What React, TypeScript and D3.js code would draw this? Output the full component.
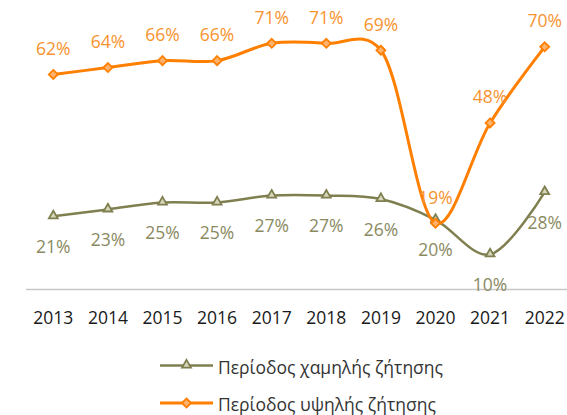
import React from "react";
import * as d3 from "d3";

const years = ["2013", "2014", "2015", "2016", "2017", "2018", "2019", "2020", "2021", "2022"];
const lowDemand = [21, 23, 25, 25, 27, 27, 26, 20, 10, 28];
const highDemand = [62, 64, 66, 66, 71, 71, 69, 19, 48, 70];
const seriesNames = ["Περίοδος χαμηλής ζήτησης", "Περίοδος υψηλής ζήτησης"];

const W = 567;
const H = 415;
const FONT = "'Open Sans', 'Noto Sans', sans-serif";
const FS = 17.5;

const GREEN = "#7f7f4f";
const GREEN_LABEL = "#8a8a62";
const GREEN_FILL = "#d6d6bb";
const ORANGE = "#ff7f00";
const ORANGE_LABEL = "#f7932f";
const ORANGE_FILL = "#ffb36e";

export default function App() {
  const x = d3.scaleBand<string>().domain(years).range([26, 572]).padding(0);
  const cx = (yr: string) => (x(yr) as number) + x.bandwidth() / 2;
  const y = d3.scaleLinear().domain([0, 80]).range([289, 12.2]);

  const line = d3
    .line<number>()
    .x((_, i) => cx(years[i]))
    .y((d) => y(d))
    .curve(d3.curveCatmullRom.alpha(0.2));

  const tri = d3.symbol().type(d3.symbolTriangle).size(34)();
  const dia = (s: number) => `M0,${-s}L${s},0L0,${s}L${-s},0Z`;

  return (
    <svg
      width={W}
      height={H}
      style={{ position: "absolute", left: 0, top: 0, background: "#fff" }}
      fontFamily={FONT}
    >
      {/* axis line */}
      <line x1={x.range()[0]} x2={x.range()[1]} y1={289.5} y2={289.5} stroke="#c8c8c8" strokeWidth={1.5} />
      {years.map((yr) => (
        <text key={yr} x={cx(yr)} y={317} textAnchor="middle" dominantBaseline="central" fontSize={FS} fill="#1a1a1a">
          {yr}
        </text>
      ))}

      {/* low demand series */}
      <path d={line(lowDemand) || ""} fill="none" stroke={GREEN} strokeWidth={2.5} />
      {lowDemand.map((v, i) => (
        <path
          key={"gm" + i}
          d={tri || ""}
          transform={`translate(${cx(years[i])},${y(v) - 0.5})`}
          fill={GREEN_FILL}
          stroke={GREEN}
          strokeWidth={1.8}
        />
      ))}

      {/* high demand series */}
      <path d={line(highDemand) || ""} fill="none" stroke={ORANGE} strokeWidth={3} />
      {highDemand.map((v, i) => (
        <path
          key={"om" + i}
          d={dia(4.5)}
          transform={`translate(${cx(years[i])},${y(v)})`}
          fill={ORANGE_FILL}
          stroke={ORANGE}
          strokeWidth={1.8}
        />
      ))}

      {/* labels */}
      {lowDemand.map((v, i) => (
        <text
          key={"gl" + i}
          x={cx(years[i])}
          y={y(v) + 29.5}
          textAnchor="middle"
          dominantBaseline="central"
          fontSize={FS}
          fill={GREEN_LABEL}
        >
          {v}%
        </text>
      ))}
      {highDemand.map((v, i) => (
        <text
          key={"ol" + i}
          x={cx(years[i])}
          y={y(v) - 26.5}
          textAnchor="middle"
          dominantBaseline="central"
          fontSize={FS}
          fill={ORANGE_LABEL}
        >
          {v}%
        </text>
      ))}

      {/* legend */}
      {[0, 1].map((k) => {
        const ly = k === 0 ? 365.5 : 403;
        const col = k === 0 ? GREEN : ORANGE;
        return (
          <g key={"lg" + k}>
            <line x1={160} x2={213} y1={ly} y2={ly} stroke={col} strokeWidth={k === 0 ? 2.5 : 3} />
            {k === 0 ? (
              <path d={tri || ""} transform={`translate(186.5,${ly - 0.5})`} fill={GREEN_FILL} stroke={GREEN} strokeWidth={1.8} />
            ) : (
              <path d={dia(4.5)} transform={`translate(186.5,${ly})`} fill={ORANGE_FILL} stroke={ORANGE} strokeWidth={1.8} />
            )}
            <text x={218} y={ly + 1} dominantBaseline="central" fontSize={FS} fill="#333333">
              {seriesNames[k]}
            </text>
          </g>
        );
      })}
    </svg>
  );
}
